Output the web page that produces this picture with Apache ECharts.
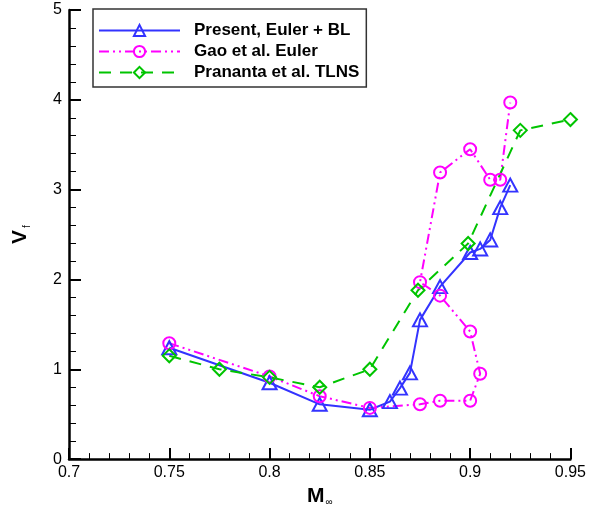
<!DOCTYPE html>
<html>
<head>
<meta charset="utf-8">
<script src="https://cdn.jsdelivr.net/npm/echarts@6/dist/echarts.min.js"></script>
<style>
  html, body { margin: 0; padding: 0; background: #fff; overflow: hidden; }
  #chart { width: 589px; height: 512px; }
</style>
</head>
<body>
<div id="chart"></div>
<script>
// Flutter speed index V_f versus freestream Mach number
const seriesNames = ['Present, Euler + BL', 'Gao et al. Euler', 'Prananta et al. TLNS'];

// Present, Euler + BL
const presentMach = [0.75, 0.8, 0.825, 0.85, 0.86, 0.865, 0.87, 0.875, 0.885, 0.9, 0.905, 0.91, 0.915, 0.92];
const presentVf   = [1.24, 0.85, 0.61, 0.55, 0.64, 0.79, 0.96, 1.55, 1.92, 2.30, 2.34, 2.44, 2.80, 3.05];

// Gao et al. Euler (curve folds back on itself)
const gaoMach = [0.75, 0.8, 0.825, 0.85, 0.875, 0.885, 0.9, 0.905, 0.9, 0.885, 0.875, 0.885, 0.9, 0.91, 0.915, 0.92];
const gaoVf   = [1.29, 0.92, 0.70, 0.57, 0.61, 0.65, 0.65, 0.95, 1.42, 1.82, 1.97, 3.19, 3.45, 3.11, 3.11, 3.97];

// Prananta et al. TLNS
const prananMach = [0.75, 0.775, 0.8, 0.825, 0.85, 0.874, 0.899, 0.925, 0.95];
const prananVf   = [1.15, 1.00, 0.91, 0.80, 1.00, 1.88, 2.40, 3.66, 3.78];

// Axis ticks
const xMin = 0.7, xMax = 0.95, xStep = 0.05;
const yMin = 0, yMax = 5, yStep = 1;

const pairs = (xs, ys) => xs.map((x, i) => [x, ys[i]]);

const colBlue = '#3333ff';
const colMagenta = '#ff00ff';
const colGreen = '#00c400';

const font = 'Liberation Sans, Arial, Helvetica, sans-serif';

const chart = echarts.init(document.getElementById('chart'), null, { renderer: 'canvas' });

function mkSeries(name, data, color, symbol, size, dash) {
  return {
    name: name,
    type: 'line',
    data: data,
    symbol: symbol,
    symbolSize: size,
    showAllSymbol: true,
    animation: false,
    itemStyle: { color: 'rgba(255,255,255,0)', borderColor: color, borderWidth: 2 },
    lineStyle: { color: color, width: 2, type: dash },
    emphasis: { disabled: true },
    z: 3
  };
}

chart.setOption({
  animation: false,
  backgroundColor: '#fff',
  grid: { left: 69, right: 17, top: 10, bottom: 45, containLabel: false },
  legend: {
    orient: 'vertical',
    left: 93,
    top: 9,
    itemWidth: 81,
    itemHeight: 14,
    itemGap: 4,
    padding: [13, 7, 6, 5],
    borderColor: '#333',
    borderWidth: 1.5,
    backgroundColor: '#fff',
    textStyle: { fontFamily: font, fontSize: 17, fontWeight: 'bold', color: '#000', padding: [0, 0, 0, 9] },
    data: seriesNames
  },
  xAxis: {
    type: 'value',
    min: xMin, max: xMax, interval: xStep,
    name: '{m|M}{s|∞}',
    nameLocation: 'middle',
    nameGap: 10,
    nameTextStyle: {
      verticalAlign: 'top',
      rich: {
        m: { fontFamily: font, fontSize: 21, fontWeight: 'bold', color: '#000', lineHeight: 24 },
        s: { fontFamily: font, fontSize: 10, color: '#000', lineHeight: 24, padding: [12, 0, 0, 1] }
      }
    },
    axisLine: { show: true, onZero: false, lineStyle: { color: '#000', width: 2.5 } },
    axisTick: { show: true, inside: true, length: 11, lineStyle: { color: '#000', width: 2 } },
    minorTick: { show: true, splitNumber: 5, length: 6, lineStyle: { color: '#000', width: 1 } },
    axisLabel: { fontFamily: font, fontSize: 16, color: '#000', margin: 5 },
    splitLine: { show: false }
  },
  yAxis: {
    type: 'value',
    min: yMin, max: yMax, interval: yStep,
    name: '{v|V}{s|f}',
    nameLocation: 'middle',
    nameGap: 37,
    nameRotate: 90,
    nameTextStyle: {
      rich: {
        v: { fontFamily: font, fontSize: 21, fontWeight: 'bold', color: '#000' },
        s: { fontFamily: font, fontSize: 10, color: '#000', padding: [14, 0, 0, 2] }
      }
    },
    axisLine: { show: true, onZero: false, lineStyle: { color: '#000', width: 2.5 } },
    axisTick: { show: true, inside: true, length: 12, lineStyle: { color: '#000', width: 2 } },
    minorTick: { show: true, splitNumber: 5, length: 7, lineStyle: { color: '#000', width: 1 } },
    axisLabel: { fontFamily: font, fontSize: 16, color: '#000', margin: 7 },
    splitLine: { show: false }
  },
  series: [
    mkSeries(seriesNames[0], pairs(presentMach, presentVf), colBlue, 'triangle', [14, 13], 'solid'),
    mkSeries(seriesNames[1], pairs(gaoMach, gaoVf), colMagenta, 'circle', 12, [10, 4, 2, 4, 2, 4]),
    mkSeries(seriesNames[2], pairs(prananMach, prananVf), colGreen, 'diamond', 13, [12, 9])
  ]
});
</script>
</body>
</html>
